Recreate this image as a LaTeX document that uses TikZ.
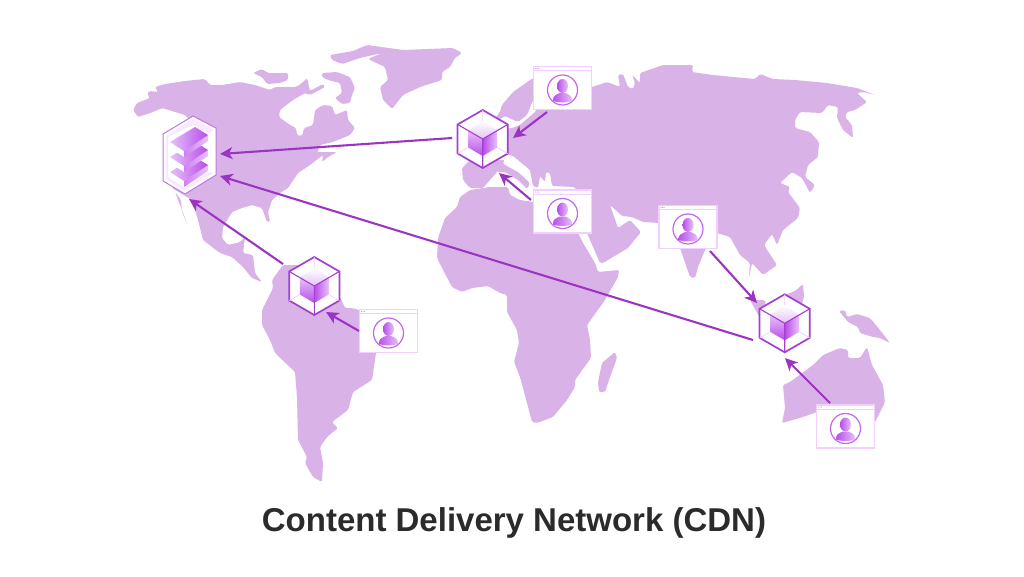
\documentclass[tikz,border=0pt]{standalone}
\usepackage{fontspec}
\setmainfont{Liberation Sans}
\usetikzlibrary{arrows.meta,shapes.geometric}
\definecolor{landc}{HTML}{D9B2E7}
\definecolor{linkc}{HTML}{9B35C1}
\definecolor{hexc}{HTML}{A43FCF}
\definecolor{palec}{HTML}{F1CFFF}
\definecolor{brightc}{HTML}{B94CEB}
\definecolor{softc}{HTML}{E6C2F8}
\definecolor{titlec}{HTML}{2B2B2B}
\tikzset{
  land/.style={fill=landc, rounded corners=1.5},
  link/.style={draw=linkc, line width=2.1, -{Stealth[length=12.5, width=12, inset=3.5]}},
  hubhex/.style={regular polygon, regular polygon sides=6, shape border rotate=30, minimum size=58, inner sep=0, draw=hexc, line width=1.7, fill=white},
  userbox/.style={rectangle, minimum width=58, minimum height=43, inner sep=0, draw=palec, line width=1.1, fill=white},
  stackbox/.style={rectangle, minimum width=53, minimum height=78, inner sep=0}
}
\begin{document}
\begin{tikzpicture}[x=1pt,y=-1pt]
        \useasboundingbox (0,0) rectangle (1024,576);
%        \draw [help lines] (0,0) grid [step=100] (1024,576);

        % north america, greenland, islands
        \fill [land] (133,110) -- (137,103) -- (150,98) -- (147,93) -- (150,91) -- (158,92) -- (155,87) -- (165,84) -- (185,81) -- (205,79) -- (210,85) -- (222,85) -- (240,82) -- (255,85) -- (270,90) -- (275,87) -- (285,87) -- (296,87) -- (302,83) -- (307,78) -- (310,91) -- (323,84) -- (325,87) -- (310,95) -- (305,93) -- (293,100) -- (280,110) -- (279,117) -- (290,125) -- (296,128) -- (297,135) -- (302,136) -- (304,128) -- (313,125) -- (315,110) -- (323,105) -- (332,106) -- (335,115) -- (347,110) -- (348,120) -- (355,128) -- (350,135) -- (333,142) -- (320,145) -- (317,152) -- (337,152) -- (328,157) -- (322,162) -- (323,155) -- (310,165) -- (298,173) -- (288,188) -- (280,193) -- (272,200) -- (268,212) -- (270,222) -- (267,222) -- (262,208) -- (252,205) -- (242,208) -- (232,212) -- (223,227) -- (222,238) -- (228,245) -- (240,242) -- (245,237) -- (243,253) -- (253,255) -- (255,273) -- (262,282) -- (252,278) -- (243,267) -- (232,257) -- (220,253) -- (203,240) -- (198,220) -- (192,200) -- (172,188) -- (175,150) -- (195,125) -- (185,115) -- (162,108) -- (153,112) -- (138,117) -- cycle;
        \fill [land] (175,192) -- (180,205) -- (188,226) -- (182,212) -- (181,200) -- cycle;
        \fill [land] (253,73) -- (262,69) -- (268,73) -- (288,73) -- (288,80) -- (280,83) -- (267,84) -- (262,77) -- cycle;
        \fill [land] (322,73) -- (337,72) -- (350,77) -- (355,88) -- (352,95) -- (350,103) -- (342,104) -- (335,98) -- (342,93) -- (340,83) -- (328,80) -- (322,77) -- cycle;
        \fill [land] (330,55) -- (353,51) -- (367,45) -- (403,50) -- (453,48) -- (462,53) -- (455,58) -- (450,67) -- (442,72) -- (442,80) -- (420,87) -- (403,95) -- (392,109) -- (383,100) -- (380,87) -- (388,80) -- (385,67) -- (368,59) -- (382,53) -- (360,58) -- (342,64) -- (332,60) -- cycle;

        % south america
        \fill [land] (283,265) -- (272,280) -- (273,288) -- (262,310) -- (262,325) -- (270,340) -- (275,353) -- (295,372) -- (297,397) -- (298,440) -- (307,457) -- (305,463) -- (313,477) -- (322,482) -- (323,463) -- (320,447) -- (327,437) -- (338,428) -- (332,422) -- (348,410) -- (353,392) -- (372,380) -- (376,353) -- (385,340) -- (375,325) -- (359,310) -- (352,308) -- (345,308) -- (340,297) -- (320,280) -- (300,265) -- cycle;

        % africa, madagascar
        \fill [land] (470,190) -- (460,197) -- (457,207) -- (445,218) -- (438,238) -- (437,258) -- (442,268) -- (452,287) -- (462,292) -- (472,288) -- (488,286) -- (500,293) -- (507,295) -- (507,312) -- (517,330) -- (519,343) -- (514,362) -- (520,377) -- (527,403) -- (532,422) -- (537,423) -- (553,417) -- (567,400) -- (575,387) -- (575,380) -- (591,358) -- (590,340) -- (587,325) -- (605,300) -- (618,277) -- (619,270) -- (598,272) -- (595,263) -- (583,243) -- (578,233) -- (570,205) -- (533,202) -- (520,200) -- (510,195) -- (508,187) -- (490,187) -- cycle;
        \fill [land] (615,352) -- (617,358) -- (610,377) -- (605,392) -- (599,392) -- (598,382) -- (602,363) -- cycle;

        % eurasia
        \fill [land] (490,125) -- (500,112) -- (502,105) -- (513,92) -- (533,78) -- (592,87) -- (607,82) -- (620,87) -- (618,75) -- (623,74) -- (628,87) -- (633,89) -- (635,83) -- (632,75) -- (640,83) -- (640,73) -- (663,65) -- (693,65) -- (692,72) -- (713,75) -- (733,77) -- (755,79) -- (760,74) -- (773,79) -- (795,80) -- (827,83) -- (857,88) -- (875,95) -- (863,92) -- (857,93) -- (867,102) -- (855,110) -- (847,112) -- (845,117) -- (852,125) -- (853,138) -- (843,130) -- (837,118) -- (838,107) -- (828,105) -- (822,113) -- (800,112) -- (795,120) -- (795,128) -- (810,132) -- (819,142) -- (818,157) -- (808,165) -- (805,177) -- (815,185) -- (810,193) -- (802,178) -- (792,172) -- (780,183) -- (790,187) -- (788,192) -- (800,208) -- (798,218) -- (783,230) -- (777,245) -- (772,234) -- (764,245) -- (777,265) -- (763,275) -- (752,263) -- (749,278) -- (750,263) -- (740,255) -- (730,237) -- (717,233) -- (705,250) -- (698,267) -- (695,278) -- (690,277) -- (680,248) -- (660,223) -- (643,222) -- (632,217) -- (622,216) -- (610,205) -- (618,228) -- (630,220) -- (641,232) -- (628,248) -- (603,263) -- (600,263) -- (587,233) -- (575,187) -- (552,186) -- (550,173) -- (546,172) -- (545,182) -- (540,176) -- (538,188) -- (533,186) -- (530,170) -- (513,156) -- (490,150) -- (495,130) -- (512,128) -- (520,125) -- (535,112) -- (540,105) -- (533,100) -- (527,115) -- (518,122) -- (505,116) -- cycle;
        \fill [land] (500,160) -- (505,165) -- (518,172) -- (530,183) -- (527,189) -- (518,180) -- (505,172) -- (497,172) -- cycle;
        \fill [land] (462,168) -- (463,180) -- (470,188) -- (483,188) -- (497,172) -- (505,160) -- (470,160) -- cycle;

        % indonesia, new guinea, australia
        \fill [land] (750,300) -- (765,300) -- (768,330) -- (760,318) -- cycle;
        \fill [land] (785,295) -- (795,291) -- (803,284) -- (804,297) -- (800,310) -- (790,310) -- cycle;
        \fill [land] (839,311) -- (845,310) -- (847,317) -- (857,314) -- (870,318) -- (880,330) -- (890,343) -- (880,338) -- (873,337) -- (860,333) -- (858,327) -- (848,322) -- cycle;
        \fill [land] (783,385) -- (790,382) -- (813,365) -- (823,355) -- (840,348) -- (848,350) -- (848,358) -- (860,358) -- (867,347) -- (872,365) -- (883,385) -- (885,402) -- (874,424) -- (817,412) -- (803,417) -- (782,423) -- (785,408) -- cycle;

        % cache hubs
        \foreach \name/\cx/\cy in {hubEU/482.7/139, hubSA/314.3/286, hubSE/784.7/323.3} {
          \node [hubhex] (\name) at (\cx,\cy) {};
          \begin{scope}[shift={(\cx,\cy)}]
            \shade [top color=white, bottom color=softc] (0,-18) -- (14.5,-8.5) -- (0,0) -- (-14.5,-8.5) -- cycle;
            \shade [top color=softc, bottom color=brightc] (-14.5,-8.5) -- (0,0) -- (0,17) -- (-14.5,8.5) -- cycle;
            \shade [left color=brightc, right color=softc] (14.5,-8.5) -- (0,0) -- (0,17) -- (14.5,8.5) -- cycle;
            \draw [palec, line width=0.7] (0,-29) -- (0,-18) (25,14.5) -- (14.5,8.5) (-25,14.5) -- (-14.5,8.5);
            \draw [hexc, line width=1.1] (-25,-14.5) -- (0,0) -- (25,-14.5) (0,0) -- (0,29);
          \end{scope}
        }

        % origin server
        \node [stackbox] (server) at (189.5,155) {};
        \draw [draw=hexc!70, line width=1, fill=white] (193,116) -- (216,128) -- (216,175) -- (185,194) -- (163,181) -- (163,134) -- cycle;
        \fill [palec!45] (193,119) -- (213,130) -- (210,134) -- (193,125) -- (168,137) -- (168,177) -- (185,188) -- (208,172) -- (213,173) -- (185,191) -- (166,179) -- (166,136) -- cycle;
        \foreach \dy in {30,15,0} {
          \begin{scope}[yshift=-\dy pt]
            \fill [white] (170,142) -- (184,151) -- (184,157) -- (170,148) -- cycle;
            \shade [left color=brightc!70, right color=softc] (184,151) -- (208,135) -- (208,141) -- (184,157) -- cycle;
            \shade [left color=softc, right color=brightc] (170,142) -- (195,127) -- (208,135) -- (184,151) -- cycle;
          \end{scope}
        }

        % users
        \foreach \name/\cx/\cy in {userNE/562.5/88, userME/562.5/211.5, userSA/388.5/331, userIN/688/227, userAU/845.5/426.5} {
          \node [userbox] (\name) at (\cx,\cy) {};
          \begin{scope}[shift={(\cx,\cy)}]
            \draw [palec, line width=1] (-29,-17.5) -- (29,-17.5);
            \foreach \dx in {-27,-25.5,-24} \fill [brightc!70] (\dx,-19.5) circle [radius=0.5];
            \draw [brightc!85, line width=1.2] (0,2) circle [radius=15];
            \shade [left color=brightc, right color=softc] (0,-2) ellipse [x radius=5.5, y radius=7];
            \shade [left color=brightc, right color=softc] (-9.5,13) .. controls (-10,7) and (-6,7) .. (-3,5) -- (3,5) .. controls (6,7) and (10,7) .. (9.5,13) .. controls (5,15) and (-5,15) .. cycle;
          \end{scope}
        }

        \draw [link] ([shift={(-30.5,-1)}]hubEU.center) -- ([shift={(30.5,-1)}]server.center);
        \draw [link] ([shift={(-31.7,16.7)}]hubSE.center) -- ([shift={(30.5,21)}]server.center);
        \draw [link] ([shift={(-31.3,-22)}]hubSA.center) -- ([shift={(-0.5,44)}]server.center);
        \draw [link] ([shift={(-15.5,24)}]userNE.center) -- ([shift={(30.3,-1)}]hubEU.center);
        \draw [link] ([shift={(-31.5,-11.5)}]userME.center) -- ([shift={(16.3,34)}]hubEU.center);
        \draw [link] ([shift={(-29.5,0)}]userSA.center) -- ([shift={(11.7,26)}]hubSA.center);
        \draw [link] ([shift={(22,24)}]userIN.center) -- ([shift={(-27.7,-20.3)}]hubSE.center);
        \draw [link] ([shift={(-15.5,-23.5)}]userAU.center) -- ([shift={(0.3,34.7)}]hubSE.center);

        \node [anchor=base, font=\fontsize{33}{36}\selectfont\bfseries, text=titlec, inner sep=0] (title) at (514,531.7) {Content Delivery Network (CDN)};
\end{tikzpicture}
\end{document}
